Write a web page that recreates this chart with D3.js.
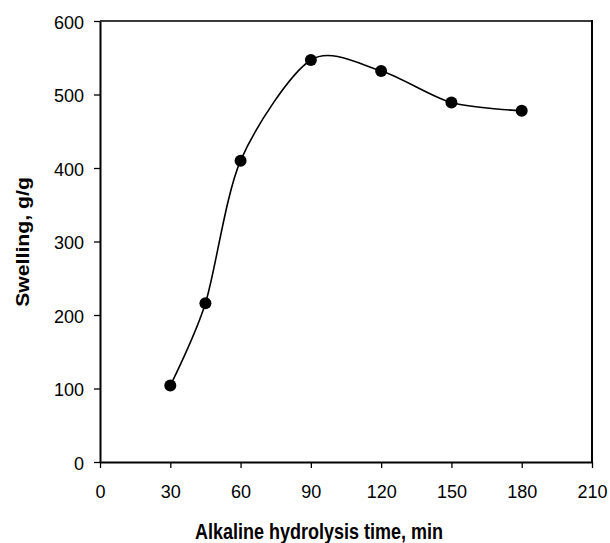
<!DOCTYPE html>
<html>
<head>
<meta charset="utf-8">
<script src="https://cdn.jsdelivr.net/npm/d3@7"></script>
<style>
  html, body { margin: 0; padding: 0; background: #fff; }
  svg { display: block; }
</style>
</head>
<body>
<svg id="chart" width="610" height="543"></svg>
<script>
const times = [30, 45, 60, 90, 120, 150, 180];
const swelling = [104, 216, 410, 547, 532, 489, 478];
const xTicks = [0, 30, 60, 90, 120, 150, 180, 210];
const yTicks = [0, 100, 200, 300, 400, 500, 600];
const xTitle = "Alkaline hydrolysis time, min";
const yTitle = "Swelling, g/g";

(function () {
const svg = d3.select("#chart");
const mLeft = 100, mRight = 592, mTop = 21, mBottom = 462;
const x = d3.scaleLinear().domain([0, 210]).range([mLeft, mRight]);
const y = d3.scaleLinear().domain([0, 600]).range([mBottom, mTop]);
const font = "'Liberation Sans', Arial, Helvetica, sans-serif";

// frame (top & right)
svg.append("line").attr("x1", mLeft).attr("x2", mRight).attr("y1", mTop).attr("y2", mTop)
  .attr("stroke", "#3a3a3a").attr("stroke-width", 2);
svg.append("line").attr("x1", mRight).attr("x2", mRight).attr("y1", mTop - 1).attr("y2", mBottom)
  .attr("stroke", "#000").attr("stroke-width", 2);

// axes
const xAxis = svg.append("g").attr("transform", `translate(0,${mBottom})`)
  .call(d3.axisBottom(x).tickValues(xTicks).tickSize(6).tickPadding(17).tickSizeOuter(0));
const yAxis = svg.append("g").attr("transform", `translate(${mLeft},0)`)
  .call(d3.axisLeft(y).tickValues(yTicks).tickSize(6).tickPadding(10).tickSizeOuter(0));
[xAxis, yAxis].forEach(g => {
  g.select(".domain").attr("stroke", "#000").attr("stroke-width", 2);
  g.selectAll(".tick line").attr("stroke", "#000").attr("stroke-width", 1.3);
  g.selectAll(".tick text").attr("font-family", font).attr("font-size", 18).attr("fill", "#000");
});
yAxis.selectAll(".tick text").attr("dy", "0.4em");

// smooth line
const line = d3.line()
  .x((d, i) => x(times[i]))
  .y(d => y(d))
  .curve(d3.curveCardinal.tension(0.15));
svg.append("path").datum(swelling)
  .attr("d", line).attr("fill", "none").attr("stroke", "#000").attr("stroke-width", 1.6);

// markers
svg.append("g").selectAll("circle").data(swelling).join("circle")
  .attr("cx", (d, i) => x(times[i])).attr("cy", d => y(d)).attr("r", 6).attr("fill", "#000");

// titles
svg.append("text").attr("transform", "translate(319,539) scale(1,1.22)").attr("text-anchor", "middle")
  .attr("font-family", font).attr("font-weight", "bold").attr("font-size", 18)
  .text(xTitle);
svg.append("text").attr("transform", "translate(29,242) rotate(-90) scale(1.18,1)").attr("text-anchor", "middle")
  .attr("font-family", font).attr("font-weight", "bold").attr("font-size", 18)
  .text(yTitle);
})();
</script>
</body>
</html>
